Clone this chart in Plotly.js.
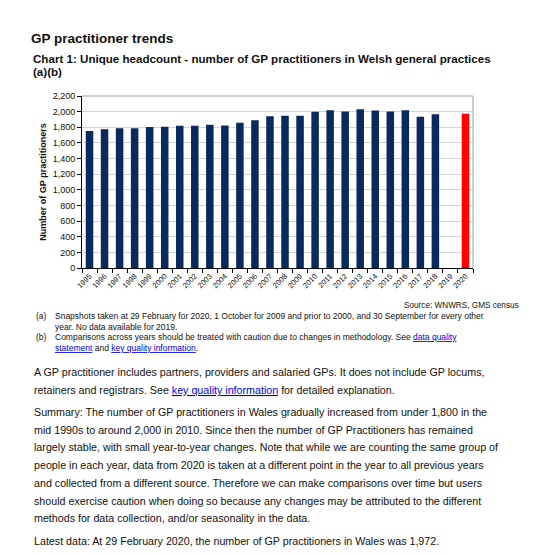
<!DOCTYPE html>
<html>
<head>
<meta charset="utf-8">
<script src="https://cdn.plot.ly/plotly-3.0.1.min.js"></script>
<style>html,body{margin:0;padding:0;background:#fff;}#chart{width:556px;height:554px;}</style>
</head>
<body>
<div id="chart"></div>
<script>
// ---- data ----
const years = ["1995","1996","1997","1998","1999","2000","2001","2002","2003","2004","2005","2006","2007","2008","2009","2010","2011","2012","2013","2014","2015","2016","2017","2018","2019","2020"];
const practitioners = [1752,1776,1789,1789,1802,1806,1818,1818,1831,1824,1859,1891,1940,1948,1948,1997,2018,2002,2031,2014,2003,2018,1934,1967,null,null];
const practitioners2020 = [null,null,null,null,null,null,null,null,null,null,null,null,null,null,null,null,null,null,null,null,null,null,null,null,null,1972];
const yTitle = "Number of GP practitioners";
const pageTitle = "GP practitioner trends";
const chartTitle = "Chart 1: Unique headcount - number of GP practitioners in Welsh general practices";
const chartTitle2 = "(a)(b)";
const sourceText = "Source: WNWRS, GMS census";
const LINK = s => '<span style="color:#0000ee"><u>' + s + '</u></span>';
const noteA = ["Snapshots taken at 29 February for 2020, 1 October for 2009 and prior to 2000, and 30 September for every other", "year. No data available for 2019."];
const noteB = ["Comparisons across years should be treated with caution due to changes in methodology. See " + LINK("data quality"), LINK("statement") + " and " + LINK("key quality information") + "."];
const para1 = ["A GP practitioner includes partners, providers and salaried GPs. It does not include GP locums,", "retainers and registrars. See " + LINK("key quality information") + " for detailed explanation."];
const summary = [
 "Summary: The number of GP practitioners in Wales gradually increased from under 1,800 in the",
 "mid 1990s to around 2,000 in 2010. Since then the number of GP Practitioners has remained",
 "largely stable, with small year-to-year changes. Note that while we are counting the same group of",
 "people in each year, data from 2020 is taken at a different point in the year to all previous years",
 "and collected from a different source. Therefore we can make comparisons over time but users",
 "should exercise caution when doing so because any changes may be attributed to the different",
 "methods for data collection, and/or seasonality in the data."
];
const latest = "Latest data: At 29 February 2020, the number of GP practitioners in Wales was 1,972.";

// ---- layout helpers (pixel -> paper) ----
const W = 556, H = 554, L = 82, R = 473, T = 96, B = 268;
const px = x => (x - L) / (R - L);
const py = y => (B - y) / (B - T);
const FONT = "Liberation Sans, Arial, sans-serif";
const ann = [];
function txt(text, x, y, size, opts) {
  ann.push(Object.assign({
    text: text, x: px(x), y: py(y), xref: 'paper', yref: 'paper',
    xanchor: 'left', yanchor: 'middle', showarrow: false,
    font: {family: FONT, size: size, color: '#111'}
  }, opts || {}));
}
txt('<b>' + chartTitle + '</b>', 31, 58, 11.6);
txt('<b>' + chartTitle2 + '</b>', 31, 71.5, 11.6);
txt(sourceText, 521, 305, 8.2, {xanchor: 'right'});
txt('(a)', 34, 316, 8.5);
txt(noteA[0], 53, 316, 8.5);
txt(noteA[1], 53, 326.5, 8.5);
txt('(b)', 34, 337, 8.5);
txt(noteB[0], 53, 337, 8.5);
txt(noteB[1], 53, 347.5, 8.5);
txt(para1[0], 32, 372, 10.7);
txt(para1[1], 32, 389.5, 10.7);
const sumY = [411.5, 429.5, 447, 465, 483, 500.5, 518];
summary.forEach((s, i) => txt(s, 32, sumY[i], 10.7));
txt(latest, 32, 541, 10.7);

const traces = [
  {type: 'bar', x: years, y: practitioners, marker: {color: '#0a2a5e'}, hoverinfo: 'x+y'},
  {type: 'bar', x: years, y: practitioners2020, marker: {color: '#ff0000'}, hoverinfo: 'x+y'}
];

const layout = {
  width: W, height: H,
  margin: {l: L, r: W - R, t: T, b: H - B, pad: 0},
  paper_bgcolor: '#fff', plot_bgcolor: '#fff',
  showlegend: false,
  barmode: 'overlay',
  bargap: 0.5,
  font: {family: FONT, color: '#111'},
  title: {text: '<b>' + pageTitle + '</b>', x: 31 / W, xref: 'container', xanchor: 'left',
          y: 1 - 38 / H, yref: 'container', yanchor: 'middle',
          font: {family: FONT, size: 13.5, color: '#111'}},
  xaxis: {
    type: 'category', categoryorder: 'array', categoryarray: years,
    range: [-0.5, 25.5], tickangle: -45, tickfont: {size: 7.5, family: FONT, color: '#111'},
    showline: true, linecolor: '#000', linewidth: 1,
    ticks: 'outside', tickson: 'boundaries', ticklen: 4, tickcolor: '#000',
    showgrid: false, zeroline: false, fixedrange: true
  },
  yaxis: {
    range: [0, 2200], dtick: 200, tickformat: ',d',
    tickfont: {size: 9, family: FONT, color: '#111'},
    showline: true, linecolor: '#000', linewidth: 1,
    ticks: 'outside', ticklen: 4, tickcolor: '#000',
    showgrid: true, gridcolor: '#d4d4d4', gridwidth: 1, zeroline: false,
    title: {text: '<b>' + yTitle + '</b>', font: {size: 9, family: FONT, color: '#111'}, standoff: 4},
    fixedrange: true
  },
  shapes: [
    {type: 'line', xref: 'paper', yref: 'paper', x0: 0, x1: 1, y0: 1, y1: 1, line: {color: '#a0a0a0', width: 1}},
    {type: 'line', xref: 'paper', yref: 'paper', x0: 1, x1: 1, y0: 0, y1: 1, line: {color: '#a0a0a0', width: 1}}
  ],
  annotations: ann
};

Plotly.newPlot('chart', traces, layout, {displayModeBar: false, staticPlot: true});
</script>
</body>
</html>
